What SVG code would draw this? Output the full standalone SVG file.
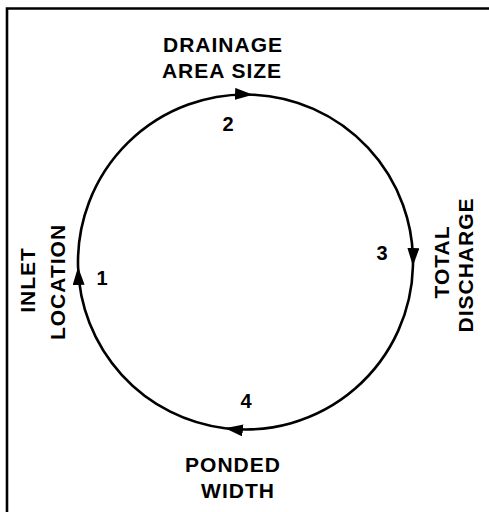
<svg xmlns="http://www.w3.org/2000/svg" width="489" height="512" viewBox="0 0 489 512">
<style>
.lbl{font-family:"Liberation Sans",Arial,sans-serif;font-weight:bold;font-size:21px;letter-spacing:1px;fill:#000;text-anchor:middle}
.num{font-family:"Liberation Sans",Arial,sans-serif;font-weight:bold;font-size:20px;fill:#000;text-anchor:middle}
.arc{fill:none;stroke:#000;stroke-width:2.6}
</style>
<defs>
<marker id="ah" markerUnits="userSpaceOnUse" markerWidth="20" markerHeight="14" refX="18" refY="6" orient="auto">
<path d="M0,0 L18,6 L0,12 z" fill="#000"/>
</marker>
</defs>
<rect width="489" height="512" fill="#fff"/>
<path d="M7,512 V8.5 H489" fill="none" stroke="#000" stroke-width="2.6"/>
<g id="connectors">
<path class="arc" d="M78.07,267 A167.5 167.5 0 0 1 253,94.7" marker-end="url(#ah)"/>
<path class="arc" d="M253,94.7 A167.5 167.5 0 0 1 412.95,266" marker-end="url(#ah)"/>
<path class="arc" d="M412.95,266 A167.5 167.5 0 0 1 225,428.2" marker-end="url(#ah)"/>
<path class="arc" d="M225,428.2 A167.5 167.5 0 0 1 78.07,267" marker-end="url(#ah)"/>
</g>
<g id="node1">
<text class="lbl" transform="translate(35,280) rotate(-90)">INLET</text>
<text class="lbl" transform="translate(65,282) rotate(-90)">LOCATION</text>
<text class="num" x="102" y="285">1</text>
</g>
<g id="node2">
<text class="lbl" x="223" y="52">DRAINAGE</text>
<text class="lbl" x="222" y="78">AREA SIZE</text>
<text class="num" x="228" y="131">2</text>
</g>
<g id="node3">
<text class="lbl" transform="translate(449,262) rotate(-90)">TOTAL</text>
<text class="lbl" transform="translate(473,265) rotate(-90)">DISCHARGE</text>
<text class="num" x="382" y="260">3</text>
</g>
<g id="node4">
<text class="num" x="246" y="408">4</text>
<text class="lbl" x="233" y="472">PONDED</text>
<text class="lbl" x="238" y="498">WIDTH</text>
</g>
</svg>
